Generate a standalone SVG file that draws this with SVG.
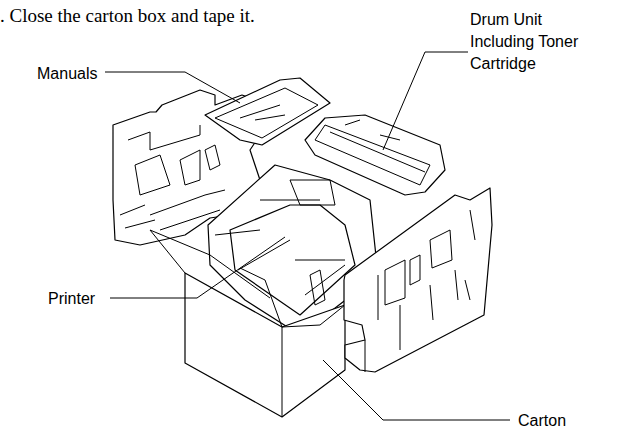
<svg xmlns="http://www.w3.org/2000/svg" width="623" height="434" viewBox="0 0 623 434">
<style>
.l{fill:#fff;stroke:#000;stroke-width:1.2;stroke-linejoin:round}
.n{fill:none;stroke:#000;stroke-width:1}
.t{font-family:"Liberation Sans",Arial,sans-serif;font-size:16px}
</style>
<rect width="623" height="434" fill="#fff"/>
<text x="0" y="22" font-family="Liberation Serif,serif" font-size="19">. Close the carton box and tape it.</text>
<g id="left-foam">
<path class="l" d="M113,125 L150,112 L156,112 L162,105 L200,90 L215,95 L215,105 L242,95 L262,102 L262,115 L250,125 L260,135 L250,150 L260,180 L240,200 L230,215 L210,218 L185,235 L140,245 L115,240 L113,200 Z"/>
<path class="n" d="M128,140 L150,132 L150,150 L200,135 L200,125 M135,165 L160,155 L165,170 L170,185 L140,195 Z M150,215 L205,195 L225,190 M160,230 L220,210 M180,160 L200,150 L200,180 L185,185 Z M205,150 L215,145 L220,165 L210,170 Z M120,215 L145,205 M125,228 L155,220"/>
</g>
<g id="manuals">
<path class="l" d="M205,115 L280,80 L300,78 L330,103 L262,145 L240,140 Z"/>
<path class="n" d="M215,118 L285,88 L318,105 L262,138 Z M240,118 L280,105 M255,120 L285,115"/>
</g>
<g id="drum">
<path class="l" d="M305,140 L325,118 L365,115 L440,145 L445,170 L425,192 L405,195 L315,155 Z"/>
<path class="n" d="M315,140 L325,125 L430,165 L420,185 Z M330,132 L425,172 M345,125 L360,120 M380,135 L400,140"/>
</g>
<g id="printer">
<path class="l" d="M208,225 L275,165 L330,180 L370,200 L378,275 L300,335 L245,300 L210,265 Z"/>
<path class="l" d="M230,230 L290,205 L320,205 L345,225 L355,265 L300,315 L235,270 Z"/>
<path class="n" d="M290,180 L330,180 L335,205 L300,205 Z M238,270 L290,240 M305,295 L345,265 M310,275 L320,270 L325,300 L315,305 Z M215,235 L260,230 M260,200 L320,200 M295,260 L345,260"/>
</g>
<g id="carton">
<path class="l" d="M185,273 L282,327 L345,305 L345,370 L282,417 L185,363 Z"/>
<path class="n" d="M282,327 L282,417 M185,273 L150,230 L210,255 L270,298 M282,327 L265,280 L240,268 M282,327 L320,325 L345,305"/>
</g>
<g id="right-foam">
<path class="l" d="M344,280 L345,275 L455,195 L470,200 L490,188 L492,225 L484,315 L375,372 L360,370 L345,358 L345,345 L365,340 L362,325 L344,320 Z"/>
<path class="n" d="M365,340 L365,372 M378,275 L378,320 M385,270 L385,305 L405,298 L405,260 Z M410,260 L420,255 L420,280 L410,285 Z M430,240 L450,230 L452,260 L432,268 Z M430,285 L433,320 M455,270 L458,300 M470,210 L475,240 M400,305 L400,350 M465,280 L470,300"/>
</g>
<g id="connectors">
<path class="n" d="M105,72 L185,72 L240,103"/>
<path class="n" d="M468,52 L425,52 L383,150"/>
<path class="n" d="M110,298 L197,298 L285,237"/>
<path class="n" d="M510,420 L383,420 L323,360"/>
</g>
<text class="t" x="470" y="25">Drum Unit</text>
<text class="t" x="470" y="47">Including Toner</text>
<text class="t" x="470" y="69">Cartridge</text>
<text class="t" x="37" y="79">Manuals</text>
<text class="t" x="48" y="304">Printer</text>
<text class="t" x="518" y="426">Carton</text>
</svg>
